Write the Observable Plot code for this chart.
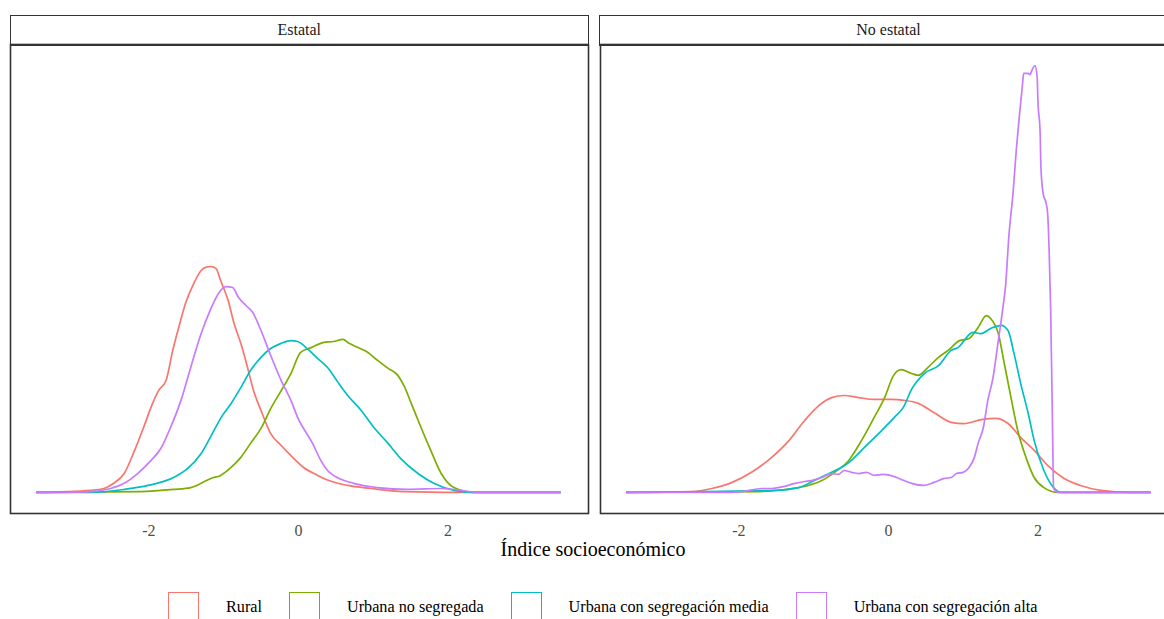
<!DOCTYPE html>
<html><head><meta charset="utf-8">
<script src="https://cdn.jsdelivr.net/npm/d3@7"></script>
<script src="https://cdn.jsdelivr.net/npm/@observablehq/plot@0.6"></script>
<style>
body{margin:0;background:#fff;font-family:"Liberation Serif","Times New Roman",serif;}
#root{position:relative;width:1164px;height:619px;overflow:hidden;background:#fff;}
.strip{position:absolute;top:15px;height:30.5px;box-sizing:border-box;border:1.5px solid #333;text-align:center;font-size:16px;line-height:27px;color:#1a1a1a;}
.panel{position:absolute;top:44px;}
.panel svg{overflow:visible;max-width:none;}
.xtitle{position:absolute;left:0;width:1186px;top:539px;text-align:center;font-size:20px;line-height:20px;color:#000;}
.legend{position:absolute;left:168px;top:592px;display:flex;align-items:center;white-space:nowrap;}
.key{width:31px;height:31px;box-sizing:border-box;border:1.6px solid;}
.lab{font-size:16.2px;margin-left:27px;margin-right:27px;line-height:31px;color:#000;}
</style></head>
<body><div id="root"></div>
<script>
const sectors = ["Estatal", "No estatal"];
const groups = ["Rural", "Urbana no segregada", "Urbana con segregación media", "Urbana con segregación alta"];
const colors = ["#F8766D", "#7CAE00", "#00BFC4", "#C77CFF"];
const xTicks = [-2, 0, 2];

// Estatal
const estRuralX = [-3.5,-2.78,-2.60,-2.47,-2.33,-2.19,-2.07,-1.95,-1.87,-1.77,-1.68,-1.60,-1.51,-1.40,-1.30,-1.24,-1.17,-1.10,-1.04,-0.94,-0.86,-0.77,-0.68,-0.60,-0.50,-0.37,-0.23,-0.10,0.07,0.26,0.34,0.66,0.97,1.41,2.44,3.5];
const estRuralY = [0,0.007,0.013,0.030,0.062,0.138,0.213,0.292,0.334,0.367,0.466,0.541,0.620,0.685,0.728,0.738,0.741,0.734,0.695,0.630,0.554,0.489,0.410,0.334,0.269,0.193,0.154,0.121,0.082,0.056,0.046,0.023,0.013,0.003,0,0];

const estNoSegX = [-3.5,-2.11,-1.67,-1.44,-1.30,-1.17,-1.04,-0.90,-0.77,-0.64,-0.50,-0.37,-0.23,-0.10,0.03,0.17,0.34,0.47,0.60,0.66,0.80,0.93,1.06,1.20,1.33,1.41,1.51,1.64,1.77,1.91,2.08,2.35,3.5];
const estNoSegY = [0,0.003,0.010,0.016,0.030,0.046,0.056,0.082,0.115,0.161,0.210,0.275,0.334,0.390,0.459,0.475,0.492,0.495,0.502,0.492,0.475,0.459,0.433,0.407,0.384,0.351,0.292,0.213,0.138,0.062,0.016,0,0];

const estMediaX = [-3.5,-2.78,-2.33,-2.01,-1.67,-1.48,-1.30,-1.13,-1.04,-0.90,-0.77,-0.64,-0.50,-0.37,-0.23,-0.10,-0.01,0.13,0.26,0.39,0.53,0.66,0.84,1.01,1.20,1.37,1.60,1.81,2.08,2.35,3.5];
const estMediaY = [0,0,0.010,0.023,0.049,0.079,0.128,0.203,0.243,0.292,0.344,0.400,0.443,0.472,0.489,0.498,0.495,0.469,0.439,0.410,0.361,0.318,0.269,0.213,0.161,0.111,0.062,0.030,0.007,0,0];

const estAltaX = [-3.5,-2.78,-2.51,-2.33,-2.15,-1.97,-1.84,-1.71,-1.57,-1.44,-1.30,-1.17,-1.06,-0.97,-0.88,-0.80,-0.70,-0.61,-0.50,-0.37,-0.23,-0.10,-0.01,0.19,0.30,0.39,0.47,0.74,1.06,1.46,1.91,2.44,3.5];
const estAltaY = [0,0.003,0.013,0.030,0.062,0.105,0.144,0.213,0.302,0.410,0.521,0.603,0.656,0.675,0.672,0.639,0.613,0.590,0.531,0.449,0.367,0.302,0.246,0.161,0.105,0.072,0.056,0.030,0.016,0.010,0.013,0,0];

// No estatal
const noRuralX = [-3.5,-3.03,-2.63,-2.36,-2.09,-1.83,-1.56,-1.33,-1.12,-0.93,-0.76,-0.59,-0.40,-0.19,0.04,0.21,0.40,0.61,0.84,1.01,1.24,1.44,1.60,1.77,1.95,2.13,2.35,2.57,2.84,3.24,3.5];
const noRuralY = [0,0.002,0.003,0.013,0.033,0.066,0.115,0.170,0.236,0.285,0.311,0.318,0.311,0.305,0.305,0.302,0.292,0.262,0.230,0.226,0.239,0.243,0.226,0.180,0.138,0.089,0.046,0.023,0.007,0,0];

const noNoSegX = [-3.5,-1.73,-1.29,-1.07,-0.89,-0.72,-0.53,-0.36,-0.19,-0.05,0.07,0.17,0.31,0.40,0.53,0.67,0.80,0.95,1.08,1.20,1.31,1.37,1.47,1.55,1.64,1.73,1.84,1.95,2.08,2.27,3.5];
const noNoSegY = [0,0.003,0.013,0.023,0.039,0.066,0.105,0.170,0.246,0.311,0.384,0.403,0.390,0.384,0.410,0.443,0.466,0.498,0.505,0.541,0.580,0.570,0.521,0.423,0.311,0.203,0.115,0.049,0.016,0,0];

const noMediaX = [-3.5,-1.52,-1.20,-0.99,-0.76,-0.53,-0.32,-0.09,0.08,0.20,0.31,0.48,0.67,0.84,0.93,1.13,1.24,1.37,1.51,1.60,1.68,1.77,1.87,1.95,2.08,2.21,2.31,3.5];
const noMediaY = [0,0.007,0.016,0.039,0.066,0.098,0.148,0.203,0.246,0.279,0.338,0.390,0.416,0.466,0.475,0.525,0.521,0.538,0.548,0.531,0.456,0.357,0.259,0.170,0.072,0.016,0,0];

const noAltaX = [-3.5,-2.63,-2.23,-1.96,-1.69,-1.56,-1.39,-1.25,-1.12,-1.03,-0.89,-0.76,-0.67,-0.59,-0.49,-0.40,-0.29,-0.19,-0.07,0.08,0.21,0.31,0.47,0.61,0.75,0.84,0.91,1.00,1.08,1.15,1.20,1.27,1.33,1.40,1.47,1.53,1.57,1.61,1.67,1.71,1.75,1.79,1.81,1.87,1.89,1.93,1.96,1.99,2.00,2.03,2.04,2.07,2.11,2.13,2.15,2.17,2.19,2.21,2.28,3.5];
const noAltaY = [0,0,0,0.003,0.013,0.013,0.020,0.030,0.036,0.039,0.049,0.062,0.059,0.072,0.066,0.062,0.066,0.056,0.059,0.052,0.039,0.030,0.023,0.033,0.046,0.049,0.062,0.066,0.082,0.115,0.161,0.213,0.302,0.377,0.498,0.603,0.685,0.836,0.990,1.121,1.230,1.328,1.374,1.374,1.370,1.390,1.400,1.361,1.285,1.177,1.066,0.980,0.948,0.915,0.793,0.603,0.302,0.013,0,0];

const series = [
  ["Estatal", groups[0], estRuralX, estRuralY],
  ["Estatal", groups[1], estNoSegX, estNoSegY],
  ["Estatal", groups[2], estMediaX, estMediaY],
  ["Estatal", groups[3], estAltaX, estAltaY],
  ["No estatal", groups[0], noRuralX, noRuralY],
  ["No estatal", groups[1], noNoSegX, noNoSegY],
  ["No estatal", groups[2], noMediaX, noMediaY],
  ["No estatal", groups[3], noAltaX, noAltaY]
];
const data = [];
for (const [sector, group, xs, ys] of series) {
  const n = Math.min(xs.length, ys.length);
  for (let i = 0; i < n; i++) data.push({sector, group, x: xs[i], y: ys[i]});
}

const root = document.getElementById("root");
const lefts = [10.3, 599.5];
sectors.forEach((sector, k) => {
  const strip = document.createElement("div");
  strip.className = "strip";
  strip.style.left = (lefts[k] - 0.75) + "px";
  strip.style.width = "579.5px";
  strip.textContent = sector;
  root.appendChild(strip);

  const rows = data.filter(d => d.sector === sector);
  const svg = Plot.plot({
    width: 578, height: 500,
    marginTop: 0, marginBottom: 31, marginLeft: 0, marginRight: 0,
    style: {fontFamily: "'Liberation Serif', 'Times New Roman', serif", fontSize: "16px", overflow: "visible", background: "transparent"},
    x: {domain: [-3.85, 3.88]},
    y: {domain: [-0.069, 1.469], axis: null},
    color: {domain: groups, range: colors},
    marks: [
      Plot.line(rows, {x: "x", y: "y", z: "group", stroke: "group", strokeWidth: 1.7, curve: "monotone-x"}),
      Plot.frame({stroke: "#333333", strokeWidth: 1.6}),
      Plot.axisX({ticks: xTicks, tickSize: 0, tickPadding: 11, tickFormat: d => String(d), fill: "#4d4d4d", fontSize: 16, label: null})
    ]
  });
  const wrap = document.createElement("div");
  wrap.className = "panel";
  wrap.style.left = lefts[k] + "px";
  wrap.appendChild(svg);
  root.appendChild(wrap);
});

const title = document.createElement("div");
title.className = "xtitle";
title.textContent = "Índice socioeconómico";
root.appendChild(title);

const legend = document.createElement("div");
legend.className = "legend";
groups.forEach((g, i) => {
  const key = document.createElement("div");
  key.className = "key";
  key.style.borderColor = colors[i];
  const lab = document.createElement("div");
  lab.className = "lab";
  lab.textContent = g;
  legend.appendChild(key);
  legend.appendChild(lab);
});
root.appendChild(legend);
</script></body></html>
